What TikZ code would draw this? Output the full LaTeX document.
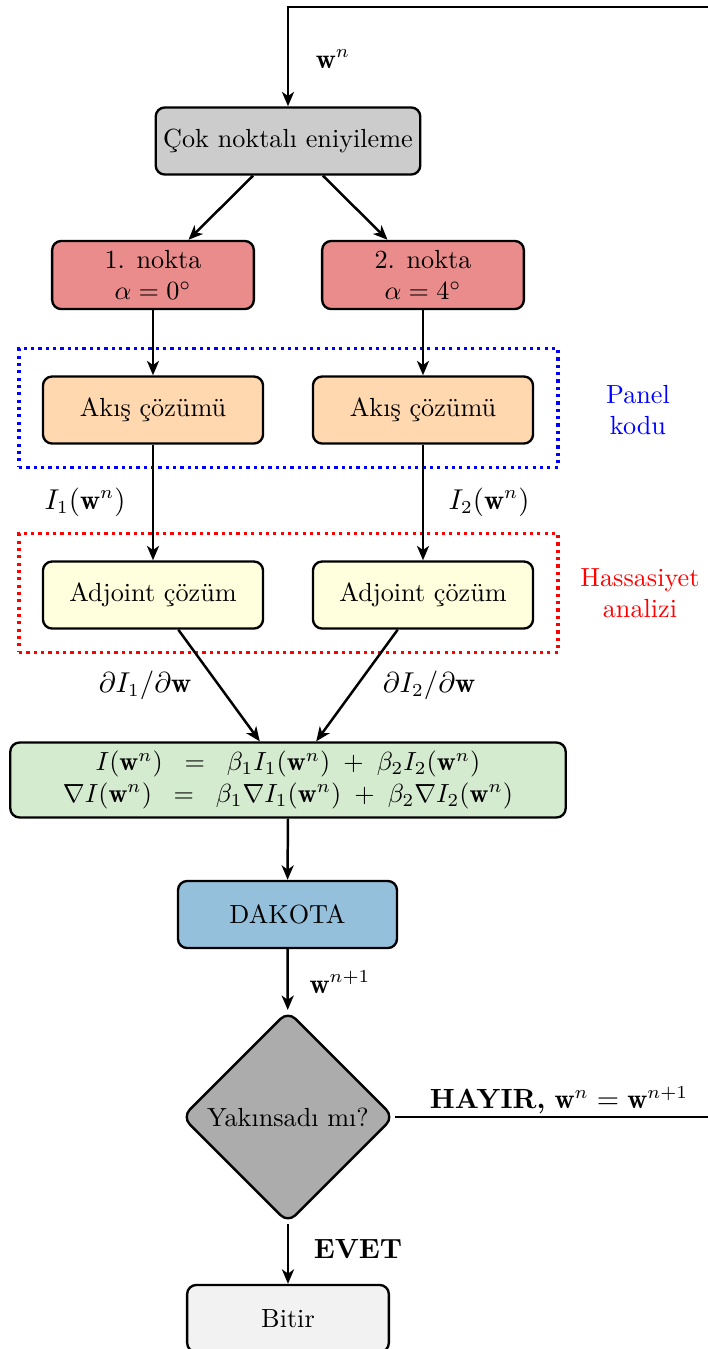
\documentclass[tikz,border=0pt]{standalone}
\usepackage{fontspec}
\usetikzlibrary{shapes.geometric,arrows.meta}
\definecolor{cgray}{gray}{0.8}
\definecolor{cred}{RGB}{234,140,140}
\definecolor{corange}{RGB}{255,216,176}
\definecolor{cyellow}{RGB}{255,255,222}
\definecolor{cgreen}{RGB}{213,235,208}
\definecolor{cblue}{RGB}{148,192,220}
\definecolor{cdia}{RGB}{172,172,172}
\definecolor{cend}{RGB}{242,242,242}
\begin{document}
\begin{tikzpicture}[x=0.38168pt,y=-0.38168pt,
  box/.style={draw, line width=0.9pt, rounded corners=3.5pt, minimum height=25.6pt, inner sep=2pt, align=center},
  arr/.style={line width=0.95pt, -{Stealth[length=5.5pt,width=4.6pt,inset=1.6pt]}},
  grp/.style={line width=1.2pt, dash pattern=on 1.2pt off 1.6pt, minimum width=205.7pt, minimum height=45.2pt, inner sep=0pt},
  lbl/.style={inner sep=1pt, align=center},
  elbl/.style={inner sep=1pt, font=\fontsize{10.6}{13}\selectfont}]
\useasboundingbox (0,0) rectangle (708,1349);

% groups
\node[grp, draw=blue] (panel) at (288.5,408) {};
\node[grp, draw=red] (sens) at (288.5,593) {};

% boxes
\node[box, fill=cgray, minimum width=101pt] (opt) at (288,141) {Çok noktalı eniyileme};
\node[box, fill=cred, minimum width=77pt, minimum height=26pt] (p1) at (153,275) {1. nokta\\$\alpha=0^\circ$};
\node[box, fill=cred, minimum width=77pt, minimum height=26pt] (p2) at (423,275) {2. nokta\\$\alpha=4^\circ$};
\node[box, fill=corange, minimum width=84pt] (f1) at (153,410) {Akış çözümü};
\node[box, fill=corange, minimum width=84pt] (f2) at (423,410) {Akış çözümü};
\node[box, fill=cyellow, minimum width=84pt] (a1) at (153,595) {Adjoint çözüm};
\node[box, fill=cyellow, minimum width=84pt] (a2) at (423,595) {Adjoint çözüm};
\node[box, fill=cgreen, minimum width=212pt, minimum height=28.6pt, inner sep=1pt] (sum) at (288,780)
  {$I(\mathbf{w}^n)\;\;=\;\;\beta_1 I_1(\mathbf{w}^n)\;+\;\beta_2 I_2(\mathbf{w}^n)$\\
   $\nabla I(\mathbf{w}^n)\;\;=\;\;\beta_1\nabla I_1(\mathbf{w}^n)\;+\;\beta_2\nabla I_2(\mathbf{w}^n)$};
\node[box, fill=cblue, minimum width=83.6pt] (dak) at (287.5,914.5) {DAKOTA};
\node[diamond, draw, line width=0.9pt, fill=cdia, aspect=1, minimum width=81pt, minimum height=81pt, inner sep=0pt, rounded corners=4pt] (conv) at (288,1117) {Yakınsadı mı?};
\node[box, fill=cend, minimum width=77pt] (end) at (288,1318.5) {Bitir};

% group labels
\node[lbl, text=blue] (lpanel) at (638,410) {Panel\\kodu};
\node[lbl, text=red] (lsens) at (640,593) {Hassasiyet\\analizi};

% connectors
\draw[arr] (opt) -- (p1);
\draw[arr] (opt) -- (p2);
\draw[arr] (p1) -- (f1);
\draw[arr] (p2) -- (f2);
\draw[arr] (f1) -- (a1);
\draw[arr] (f2) -- (a2);
\draw[arr] (a1) -- (sum);
\draw[arr] (a2) -- (sum);
\draw[arr] (sum) -- (dak);
\draw[arr] (dak) -- (conv);
\draw[arr] (conv) -- (end);
\coordinate (r1) at (716,1117);
\coordinate (r2) at (716,7);
\draw[arr] (conv.east) -- (r1) -- (r2) -| (opt.north);

% edge labels
\node[elbl] (lwn) at (333,59) {$\mathbf{w}^n$};
\node[elbl] (li1) at (85,502) {$I_1(\mathbf{w}^n)$};
\node[elbl] (li2) at (489,502) {$I_2(\mathbf{w}^n)$};
\node[elbl] (ld1) at (145,685) {$\partial I_1/\partial\mathbf{w}$};
\node[elbl] (ld2) at (429,685) {$\partial I_2/\partial\mathbf{w}$};
\node[elbl] (lwn1) at (340,982) {$\mathbf{w}^{n+1}$};
\node[elbl] (lno) at (559,1100) {\textbf{HAYIR,} $\mathbf{w}^n=\mathbf{w}^{n+1}$};
\node[elbl] (lyes) at (358,1249) {\textbf{EVET}};
\end{tikzpicture}
\end{document}
